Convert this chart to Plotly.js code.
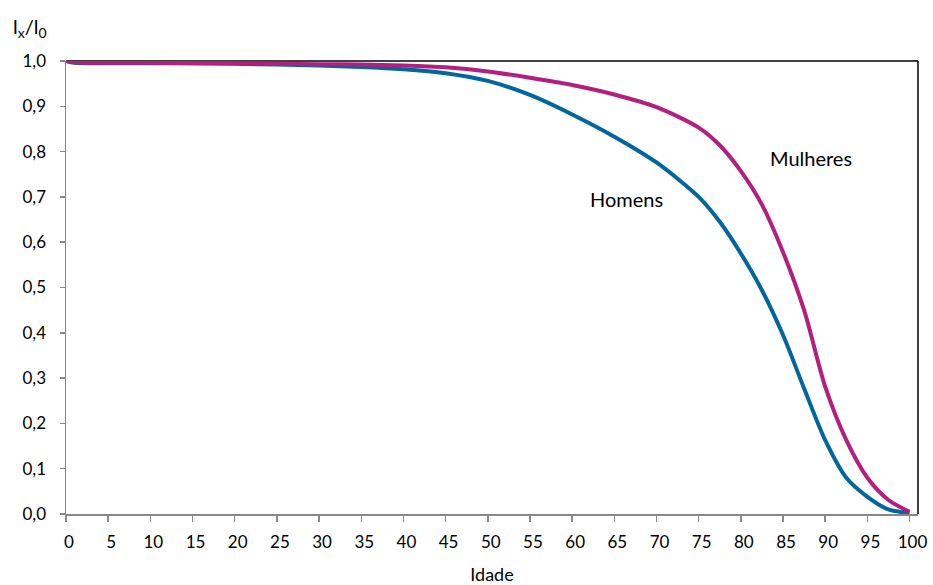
<!DOCTYPE html>
<html>
<head>
<meta charset="utf-8">
<script src="https://cdn.plot.ly/plotly-3.0.1.min.js"></script>
<style>html,body{margin:0;padding:0;background:#fff;}#chart{width:933px;height:585px;}</style>
</head>
<body>
<div id="chart"></div>
<script>
// Ages (Idade) at which values were read
const ages = [0, 1, 5, 10, 15, 20, 25, 30, 35, 40, 45, 50, 55, 60, 65, 70, 75, 77.5, 80, 82.5, 85, 87.5, 90, 92.5, 95, 97.5, 100];
// lx/l0 for women (Mulheres)
const mulheres = [1.000, 0.997, 0.996, 0.996, 0.995, 0.995, 0.994, 0.993, 0.992, 0.990, 0.986, 0.977, 0.963, 0.947, 0.926, 0.898, 0.853, 0.814, 0.757, 0.683, 0.578, 0.450, 0.281, 0.163, 0.080, 0.031, 0.005];
// lx/l0 for men (Homens)
const homens = [1.000, 0.996, 0.995, 0.995, 0.995, 0.994, 0.992, 0.990, 0.987, 0.982, 0.973, 0.956, 0.925, 0.882, 0.833, 0.776, 0.700, 0.645, 0.575, 0.494, 0.395, 0.277, 0.163, 0.080, 0.038, 0.010, 0.002];
const xTicks = [0, 5, 10, 15, 20, 25, 30, 35, 40, 45, 50, 55, 60, 65, 70, 75, 80, 85, 90, 95, 100];
const yTicks = [0, 0.1, 0.2, 0.3, 0.4, 0.5, 0.6, 0.7, 0.8, 0.9, 1.0];

const FONT = 'Lato, "Open Sans", sans-serif';
const traces = [
  {x: ages, y: homens, mode: 'lines', name: 'Homens', line: {color: '#00679E', width: 4, shape: 'spline', smoothing: 0.8}},
  {x: ages, y: mulheres, mode: 'lines', name: 'Mulheres', line: {color: '#B21F7E', width: 4, shape: 'spline', smoothing: 0.8}}
];
const layout = {
  width: 933, height: 585,
  margin: {l: 66, r: 15, t: 61, b: 71},
  paper_bgcolor: '#fff', plot_bgcolor: '#fff',
  showlegend: false,
  separators: ',.',
  font: {family: FONT, size: 17, color: '#000'},
  xaxis: {
    range: [0, 101], tickvals: xTicks, ticks: 'outside', ticklen: 6, tickcolor: '#888', tickwidth: 1.5,
    showgrid: false, zeroline: false, showline: true, linecolor: '#888', linewidth: 1.5,
    ticklabelshift: 3, ticklabelstandoff: 6,
    tickfont: {family: FONT, size: 17, color: '#000'},
    title: {text: 'Idade', font: {family: FONT, size: 18, color: '#000'}, standoff: 18}
  },
  yaxis: {
    range: [0, 1], tickvals: yTicks, tickformat: '.1f', ticks: 'outside', ticklen: 5, tickcolor: '#888', tickwidth: 1.5,
    showgrid: false, zeroline: false, showline: true, linecolor: '#888', linewidth: 1.5,
    ticklabelstandoff: 10,
    tickfont: {family: FONT, size: 17, color: '#000'}
  },
  shapes: [
    {type: 'line', xref: 'paper', yref: 'paper', x0: 0, x1: 1, y0: 1, y1: 1, line: {color: '#000', width: 1.5}, layer: 'below'},
    {type: 'line', xref: 'paper', yref: 'paper', x0: 1, x1: 1, y0: 0, y1: 1, line: {color: '#000', width: 1.5}, layer: 'below'}
  ],
  annotations: [
    {text: 'l<sub>x</sub>/l<sub>0</sub>', xref: 'paper', yref: 'paper', x: -0.0646, y: 1.108, xanchor: 'left', yanchor: 'top', showarrow: false, font: {family: FONT, size: 20, color: '#000'}},
    {text: 'Homens', xref: 'x', yref: 'y', x: 66.5, y: 0.695, showarrow: false, font: {family: FONT, size: 20, color: '#000'}},
    {text: 'Mulheres', xref: 'x', yref: 'y', x: 88.3, y: 0.785, showarrow: false, font: {family: FONT, size: 20, color: '#000'}}
  ]
};
Plotly.newPlot('chart', traces, layout, {displayModeBar: false, staticPlot: true});
</script>
</body>
</html>
